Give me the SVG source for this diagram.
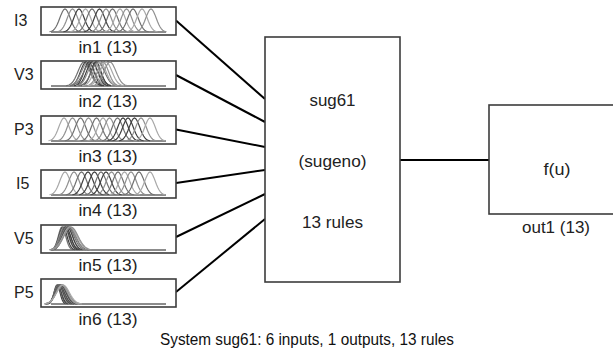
<svg xmlns="http://www.w3.org/2000/svg" xmlns:xlink="http://www.w3.org/1999/xlink" width="613" height="358" viewBox="0 0 613 358">
<style>
.box{fill:#fff;stroke:#3c3c3c;stroke-width:1.6}
.t{font-family:"Liberation Sans",Arial,sans-serif;font-size:16px;fill:#222}
.m{text-anchor:middle}
.conn{stroke:#000;stroke-width:2;fill:none}
.base{stroke:#666;stroke-width:1.6}
.a{stroke:#707070}.b{stroke:#909090}.c{stroke:#404040}.d{stroke:#a8a8a8}
</style>
<defs>
<path id="g" fill="none" stroke-width="1.2" vector-effect="non-scaling-stroke" d="M-3,-0.011 L-2.75,-0.023 L-2.5,-0.044 L-2.25,-0.080 L-2,-0.135 L-1.75,-0.216 L-1.5,-0.325 L-1.25,-0.458 L-1,-0.607 L-0.75,-0.755 L-0.5,-0.883 L-0.25,-0.969 L0,-1 L0.25,-0.969 L0.5,-0.883 L0.75,-0.755 L1,-0.607 L1.25,-0.458 L1.5,-0.325 L1.75,-0.216 L2,-0.135 L2.25,-0.080 L2.5,-0.044 L2.75,-0.023 L3,-0.011"/>
</defs>
<rect width="613" height="358" fill="#fff"/>

<g id="connectors">
<line class="conn" x1="176" y1="20.5" x2="265" y2="99"/>
<line class="conn" x1="176" y1="75" x2="265" y2="122"/>
<line class="conn" x1="176" y1="129.5" x2="265" y2="147"/>
<line class="conn" x1="176" y1="183" x2="265" y2="170"/>
<line class="conn" x1="176" y1="237" x2="265" y2="194"/>
<line class="conn" x1="176" y1="292" x2="265" y2="219"/>
<line class="conn" x1="400" y1="160" x2="489" y2="160"/>
</g>

<g id="in1">
<rect class="box" x="41" y="7" width="135" height="28"/>
<text class="t" x="14" y="26">I3</text>
<text class="t m" x="108" y="53" textLength="59" lengthAdjust="spacingAndGlyphs">in1 (13)</text>
<g transform="translate(0,7)">
<line class="base" x1="51" y1="25" x2="166" y2="25"/>
<use xlink:href="#g" class="a" transform="translate(65,25) scale(5.2,23)"/>
<use xlink:href="#g" class="b" transform="translate(72.5,25) scale(5.2,23)"/>
<use xlink:href="#g" class="c" transform="translate(79,25) scale(5.2,23)"/>
<use xlink:href="#g" class="d" transform="translate(85.5,25) scale(5.2,23)"/>
<use xlink:href="#g" class="a" transform="translate(92,25) scale(5.2,23)"/>
<use xlink:href="#g" class="c" transform="translate(99.5,25) scale(5.2,23)"/>
<use xlink:href="#g" class="b" transform="translate(106,25) scale(5.2,23)"/>
<use xlink:href="#g" class="a" transform="translate(112.5,25) scale(5.2,23)"/>
<use xlink:href="#g" class="d" transform="translate(120,25) scale(5.2,23)"/>
<use xlink:href="#g" class="b" transform="translate(126.5,25) scale(5.2,23)"/>
<use xlink:href="#g" class="a" transform="translate(133,25) scale(5.2,23)"/>
<use xlink:href="#g" class="d" transform="translate(142,25) scale(5.2,23)"/>
<use xlink:href="#g" class="b" transform="translate(151,25) scale(5.2,23)"/>
</g>
</g>

<g id="in2">
<rect class="box" x="41" y="61" width="135" height="28"/>
<text class="t" x="14" y="80">V3</text>
<text class="t m" x="108" y="107" textLength="59" lengthAdjust="spacingAndGlyphs">in2 (13)</text>
<g transform="translate(0,61)">
<line class="base" x1="51" y1="25" x2="166" y2="25"/>
<use xlink:href="#g" class="a" transform="translate(84,25) scale(6,24)"/>
<use xlink:href="#g" class="c" transform="translate(86,25) scale(5.5,24)"/>
<use xlink:href="#g" class="b" transform="translate(88,25) scale(6.5,24)"/>
<use xlink:href="#g" class="c" transform="translate(89,25) scale(5,24)"/>
<use xlink:href="#g" class="a" transform="translate(91,25) scale(7,24)"/>
<use xlink:href="#g" class="c" transform="translate(92,25) scale(5.5,24)"/>
<use xlink:href="#g" class="b" transform="translate(94,25) scale(6,24)"/>
<use xlink:href="#g" class="c" transform="translate(96,25) scale(5,24)"/>
<use xlink:href="#g" class="a" transform="translate(98,25) scale(6.5,24)"/>
<use xlink:href="#g" class="d" transform="translate(100,25) scale(6,24)"/>
<use xlink:href="#g" class="b" transform="translate(103,25) scale(5.5,24)"/>
<use xlink:href="#g" class="d" transform="translate(106,25) scale(6,24)"/>
<use xlink:href="#g" class="b" transform="translate(110,25) scale(6,24)"/>
</g>
</g>

<g id="in3">
<rect class="box" x="41" y="116" width="135" height="28"/>
<text class="t" x="14" y="135">P3</text>
<text class="t m" x="108" y="162" textLength="59" lengthAdjust="spacingAndGlyphs">in3 (13)</text>
<g transform="translate(0,116)">
<line class="base" x1="51" y1="25" x2="166" y2="25"/>
<use xlink:href="#g" class="d" transform="translate(64,25) scale(5.2,23)"/>
<use xlink:href="#g" class="b" transform="translate(72.5,25) scale(5.2,23)"/>
<use xlink:href="#g" class="a" transform="translate(80.5,25) scale(5.2,23)"/>
<use xlink:href="#g" class="b" transform="translate(88.5,25) scale(5.2,23)"/>
<use xlink:href="#g" class="a" transform="translate(96.5,25) scale(5.2,23)"/>
<use xlink:href="#g" class="d" transform="translate(103,25) scale(5.2,23)"/>
<use xlink:href="#g" class="b" transform="translate(109.5,25) scale(5.2,23)"/>
<use xlink:href="#g" class="a" transform="translate(117.5,25) scale(5.2,23)"/>
<use xlink:href="#g" class="c" transform="translate(123,25) scale(5.2,23)"/>
<use xlink:href="#g" class="c" transform="translate(128,25) scale(5.2,23)"/>
<use xlink:href="#g" class="c" transform="translate(134.5,25) scale(5.2,23)"/>
<use xlink:href="#g" class="b" transform="translate(141,25) scale(5.2,23)"/>
<use xlink:href="#g" class="d" transform="translate(150,25) scale(5.2,23)"/>
</g>
</g>

<g id="in4">
<rect class="box" x="41" y="170" width="135" height="28"/>
<text class="t" x="16" y="189">I5</text>
<text class="t m" x="108" y="216" textLength="59" lengthAdjust="spacingAndGlyphs">in4 (13)</text>
<g transform="translate(0,170)">
<line class="base" x1="51" y1="25" x2="166" y2="25"/>
<use xlink:href="#g" class="d" transform="translate(65,25) scale(5.2,23)"/>
<use xlink:href="#g" class="b" transform="translate(74,25) scale(5.2,23)"/>
<use xlink:href="#g" class="a" transform="translate(81.5,25) scale(5.2,23)"/>
<use xlink:href="#g" class="c" transform="translate(88,25) scale(5.2,23)"/>
<use xlink:href="#g" class="c" transform="translate(94.5,25) scale(5.2,23)"/>
<use xlink:href="#g" class="a" transform="translate(101,25) scale(5.2,23)"/>
<use xlink:href="#g" class="c" transform="translate(106,25) scale(5.2,23)"/>
<use xlink:href="#g" class="b" transform="translate(111.5,25) scale(5.2,23)"/>
<use xlink:href="#g" class="a" transform="translate(118,25) scale(5.2,23)"/>
<use xlink:href="#g" class="d" transform="translate(124.5,25) scale(5.2,23)"/>
<use xlink:href="#g" class="b" transform="translate(131,25) scale(5.2,23)"/>
<use xlink:href="#g" class="a" transform="translate(139,25) scale(5.2,23)"/>
<use xlink:href="#g" class="d" transform="translate(150,25) scale(5.2,23)"/>
</g>
</g>

<g id="in5">
<rect class="box" x="41" y="225" width="135" height="28"/>
<text class="t" x="14" y="244">V5</text>
<text class="t m" x="108" y="271" textLength="59" lengthAdjust="spacingAndGlyphs">in5 (13)</text>
<g transform="translate(0,225)">
<line class="base" x1="51" y1="25" x2="166" y2="25"/>
<use xlink:href="#g" class="a" transform="translate(62,25) scale(3.7,23)"/>
<use xlink:href="#g" class="c" transform="translate(63,25) scale(4,23)"/>
<use xlink:href="#g" class="b" transform="translate(64,25) scale(4.5,23)"/>
<use xlink:href="#g" class="c" transform="translate(65,25) scale(4.2,23)"/>
<use xlink:href="#g" class="a" transform="translate(65.5,25) scale(5,23)"/>
<use xlink:href="#g" class="c" transform="translate(66,25) scale(4.5,23)"/>
<use xlink:href="#g" class="b" transform="translate(67,25) scale(5.5,23)"/>
<use xlink:href="#g" class="c" transform="translate(67.5,25) scale(5,23)"/>
<use xlink:href="#g" class="a" transform="translate(68,25) scale(6,23)"/>
<use xlink:href="#g" class="c" transform="translate(69,25) scale(6.5,23)"/>
<use xlink:href="#g" class="b" transform="translate(69.5,25) scale(6,23)"/>
<use xlink:href="#g" class="d" transform="translate(70,25) scale(7,23)"/>
<use xlink:href="#g" class="b" transform="translate(71,25) scale(7,23)"/>
</g>
</g>

<g id="in6">
<rect class="box" x="41" y="279" width="135" height="28"/>
<text class="t" x="14" y="298">P5</text>
<text class="t m" x="108" y="325" textLength="59" lengthAdjust="spacingAndGlyphs">in6 (13)</text>
<g transform="translate(0,279)">
<line class="base" x1="51" y1="25" x2="166" y2="25"/>
<use xlink:href="#g" class="c" transform="translate(57,25) scale(3,19)"/>
<use xlink:href="#g" class="a" transform="translate(57.5,25) scale(3.3,19)"/>
<use xlink:href="#g" class="c" transform="translate(58,25) scale(3.5,19)"/>
<use xlink:href="#g" class="b" transform="translate(58.5,25) scale(4,19)"/>
<use xlink:href="#g" class="c" transform="translate(59,25) scale(4.2,19)"/>
<use xlink:href="#g" class="a" transform="translate(59.5,25) scale(4.5,19)"/>
<use xlink:href="#g" class="c" transform="translate(60,25) scale(4.7,19)"/>
<use xlink:href="#g" class="b" transform="translate(60.5,25) scale(5,19)"/>
<use xlink:href="#g" class="c" transform="translate(61,25) scale(5.2,19)"/>
<use xlink:href="#g" class="a" transform="translate(61.5,25) scale(5.5,19)"/>
<use xlink:href="#g" class="d" transform="translate(62,25) scale(5.7,19)"/>
<use xlink:href="#g" class="b" transform="translate(62.5,25) scale(6,19)"/>
<use xlink:href="#g" class="d" transform="translate(63,25) scale(6.3,19)"/>
</g>
</g>

<g id="system">
<rect class="box" x="265" y="37" width="135" height="245"/>
<text class="t m" x="332.5" y="106" textLength="46" lengthAdjust="spacingAndGlyphs">sug61</text>
<text class="t m" x="332.5" y="167" textLength="68" lengthAdjust="spacingAndGlyphs">(sugeno)</text>
<text class="t m" x="332.5" y="228" textLength="61" lengthAdjust="spacingAndGlyphs">13 rules</text>
</g>

<g id="out1">
<rect class="box" x="489" y="105" width="140" height="109"/>
<text class="t m" x="557" y="175" textLength="27" lengthAdjust="spacingAndGlyphs">f(u)</text>
<text class="t m" x="556" y="233" textLength="68" lengthAdjust="spacingAndGlyphs">out1 (13)</text>
</g>

<text class="t m" x="307" y="345" textLength="294" lengthAdjust="spacingAndGlyphs" style="fill:#111">System sug61: 6 inputs, 1 outputs, 13 rules</text>
</svg>
